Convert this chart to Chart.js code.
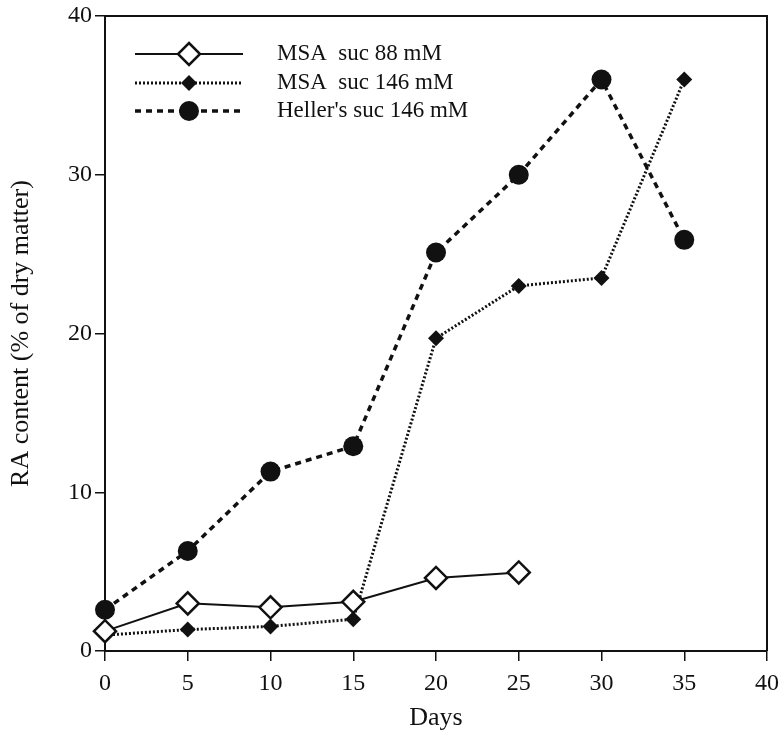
<!DOCTYPE html>
<html>
<head>
<meta charset="utf-8">
<script src="https://cdn.jsdelivr.net/npm/chart.js@4.4.1/dist/chart.umd.min.js"></script>
<style>
  html, body { margin: 0; padding: 0; background: #fff; }
  #wrap { width: 783px; height: 742px; position: relative; }
</style>
</head>
<body>
<div id="wrap"><canvas id="raChart"></canvas></div>
<script>
// data
const days88 = [0, 5, 10, 15, 20, 25];
const msa88 = [1.25, 3.0, 2.75, 3.1, 4.6, 4.95];

const days146 = [0, 5, 10, 15, 20, 25, 30, 35];
const msa146 = [1.0, 1.35, 1.55, 2.0, 19.7, 23.0, 23.5, 36.0];

const daysHeller = [0, 5, 10, 15, 20, 25, 30, 35];
const heller146 = [2.6, 6.3, 11.3, 12.9, 25.1, 30.0, 36.0, 25.9];

const xTicks = [0, 5, 10, 15, 20, 25, 30, 35, 40];
const yTicks = [0, 10, 20, 30, 40];

const seriesNames = ['MSA  suc 88 mM', 'MSA  suc 146 mM', "Heller's suc 146 mM"];

const FONT = "'Liberation Serif', 'DejaVu Serif', serif";

function toPoints(xs, ys) {
    return xs.map((x, i) => ({ x: x, y: ys[i] }));
}

// legend box top-left + closing the frame (top + right)
const extrasPlugin = {
    id: 'extras',
    afterDraw(chart) {
        const ctx = chart.ctx;
        const a = chart.chartArea;
        ctx.save();
        ctx.strokeStyle = '#111';
        ctx.lineWidth = 2;
        ctx.beginPath();
        ctx.moveTo(a.left, a.top);
        ctx.lineTo(a.right, a.top);
        ctx.lineTo(a.right, a.bottom);
        ctx.stroke();

        const rows = [54, 83, 111];
        const x0 = 135, x1 = 243, xm = 189, xt = 277;
        chart.data.datasets.forEach((ds, i) => {
            const y = rows[i];
            ctx.setLineDash(ds.borderDash || []);
            ctx.lineWidth = ds.borderWidth;
            ctx.strokeStyle = '#111';
            ctx.beginPath();
            ctx.moveTo(x0, y);
            ctx.lineTo(x1, y);
            ctx.stroke();
            ctx.setLineDash([]);
            const r = ds.pointRadius;
            ctx.fillStyle = ds.pointBackgroundColor;
            ctx.lineWidth = ds.pointBorderWidth;
            ctx.beginPath();
            if (ds.pointStyle === 'circle') {
                ctx.arc(xm, y, r, 0, Math.PI * 2);
            } else {
                ctx.moveTo(xm, y - r);
                ctx.lineTo(xm + r, y);
                ctx.lineTo(xm, y + r);
                ctx.lineTo(xm - r, y);
                ctx.closePath();
            }
            ctx.fill();
            if (ds.pointBorderWidth > 0) ctx.stroke();

            ctx.fillStyle = '#111';
            ctx.font = '23px ' + FONT;
            ctx.textBaseline = 'middle';
            ctx.textAlign = 'left';
            ctx.fillText(ds.label, xt, y);
        });
        ctx.restore();
    }
};

new Chart(document.getElementById('raChart').getContext('2d'), {
    type: 'line',
    data: {
        datasets: [
            {
                label: seriesNames[0],
                data: toPoints(days88, msa88),
                borderColor: '#111',
                borderWidth: 2,
                pointStyle: 'rectRot',
                pointRadius: 11,
                pointBackgroundColor: '#fff',
                pointBorderColor: '#111',
                pointBorderWidth: 2.5,
                tension: 0,
                clip: false
            },
            {
                label: seriesNames[1],
                data: toPoints(days146, msa146),
                borderColor: '#111',
                borderWidth: 3,
                borderDash: [2, 2],
                pointStyle: 'rectRot',
                pointRadius: 8,
                pointBackgroundColor: '#111',
                pointBorderColor: '#111',
                pointBorderWidth: 0,
                tension: 0,
                clip: false
            },
            {
                label: seriesNames[2],
                data: toPoints(daysHeller, heller146),
                borderColor: '#111',
                borderWidth: 3.5,
                borderDash: [6, 5],
                pointStyle: 'circle',
                pointRadius: 10,
                pointBackgroundColor: '#111',
                pointBorderColor: '#111',
                pointBorderWidth: 0,
                tension: 0,
                clip: false
            }
        ]
    },
    options: {
        responsive: true,
        maintainAspectRatio: false,
        animation: false,
        layout: { padding: { top: 16, right: 16, left: 0, bottom: 0 } },
        plugins: {
            legend: { display: false },
            tooltip: { enabled: false }
        },
        scales: {
            x: {
                type: 'linear',
                min: 0,
                max: 40,
                afterFit: s => { s.height = 91; s.paddingLeft = 0; s.paddingRight = 0; },
                afterBuildTicks: s => { s.ticks = xTicks.map(v => ({ value: v })); },
                border: { color: '#111', width: 2 },
                grid: { drawOnChartArea: false, tickLength: 10, color: '#111', lineWidth: 1.5 },
                ticks: { color: '#111', font: { family: FONT, size: 24 }, padding: 8 },
                title: {
                    display: true,
                    text: 'Days',
                    color: '#111',
                    font: { family: FONT, size: 26 },
                    padding: { top: 0, bottom: 8 }
                }
            },
            y: {
                min: 0,
                max: 40,
                afterFit: s => { s.width = 105; s.paddingTop = 0; s.paddingBottom = 0; },
                afterBuildTicks: s => { s.ticks = yTicks.map(v => ({ value: v })); },
                border: { color: '#111', width: 2 },
                grid: { drawOnChartArea: false, tickLength: 10, color: '#111', lineWidth: 1.5 },
                ticks: { color: '#111', font: { family: FONT, size: 24 }, padding: 3 },
                title: {
                    display: true,
                    text: 'RA content (% of dry matter)',
                    color: '#111',
                    font: { family: FONT, size: 26 },
                    padding: { top: 6, bottom: 0 }
                }
            }
        }
    },
    plugins: [extrasPlugin]
});
</script>
</body>
</html>
